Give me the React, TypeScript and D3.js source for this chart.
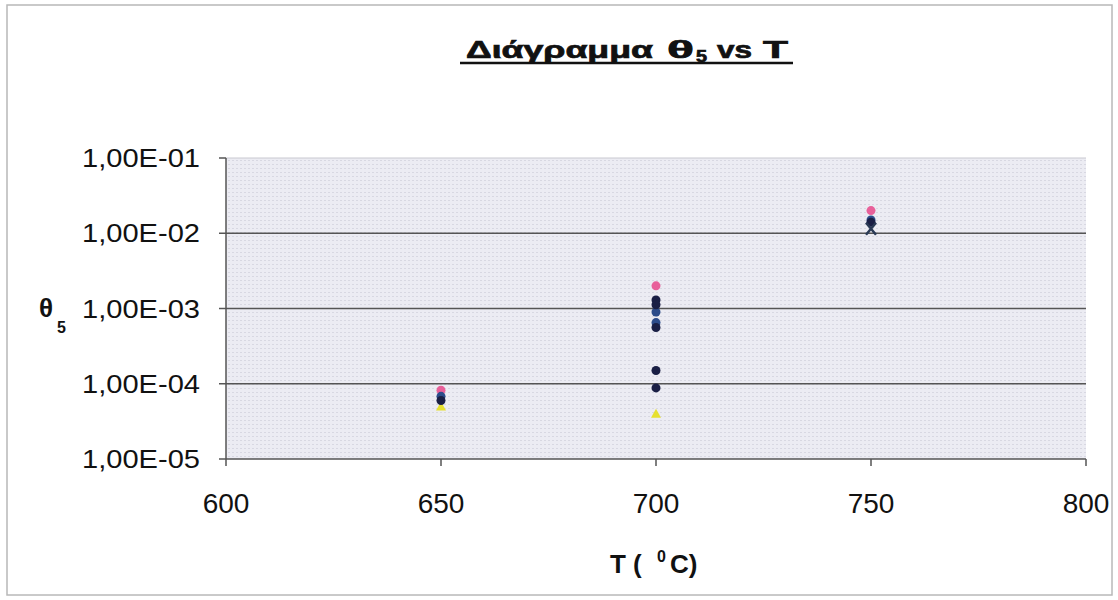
import React from "react";
import * as d3 from "d3";

const xTicks = [600, 650, 700, 750, 800];
const yTicks = [1e-5, 1e-4, 1e-3, 1e-2, 1e-1];
const yTickLabels = ["1,00E-05", "1,00E-04", "1,00E-03", "1,00E-02", "1,00E-01"];

type Pt = { t: number; v: number };
const seriesNavy: Pt[] = [
  { t: 650, v: 6.0e-5 },
  { t: 700, v: 1.3e-3 },
  { t: 700, v: 1.12e-3 },
  { t: 700, v: 5.6e-4 },
  { t: 700, v: 1.5e-4 },
  { t: 700, v: 8.8e-5 },
  { t: 750, v: 1.4e-2 },
];
const seriesPink: Pt[] = [
  { t: 650, v: 8.2e-5 },
  { t: 700, v: 2.0e-3 },
  { t: 750, v: 2.0e-2 },
];
const seriesYellow: Pt[] = [
  { t: 650, v: 5.0e-5 },
  { t: 700, v: 4.0e-5 },
];
const seriesBlue: Pt[] = [
  { t: 650, v: 6.8e-5 },
  { t: 700, v: 9.0e-4 },
  { t: 700, v: 6.5e-4 },
  { t: 750, v: 1.5e-2 },
];
const seriesX: Pt[] = [{ t: 750, v: 1.15e-2 }];

export default function App() {
  const W = 1118, H = 600;
  const left = 226, right = 1086, top = 158, bottom = 459;
  const x = d3.scaleLinear().domain([600, 800]).range([left, right]);
  const y = d3.scaleLog().domain([1e-5, 1e-1]).range([bottom, top]);
  const font = "'Liberation Sans', Arial, sans-serif";

  return (
    <svg width={W} height={H} style={{ position: "absolute", left: 0, top: 0 }}>
      <defs>
        <pattern id="dots" width="4" height="4" patternUnits="userSpaceOnUse">
          <rect width="4" height="4" fill="#ececf3" />
          <rect width="2" height="1" fill="#d8d8e2" />
        </pattern>
      </defs>
      <rect x={0} y={0} width={W} height={H} fill="#fff" />
      <rect x={7} y={5} width={1105} height={590} fill="none" stroke="#b8b8b8" strokeWidth={1.5} />
      {/* plot area */}
      <rect x={left} y={top} width={right - left} height={bottom - top} fill="url(#dots)" />
      {yTicks.slice(1, 4).map((v) => (
        <line key={v} x1={left} x2={right} y1={y(v)} y2={y(v)} stroke="#555" strokeWidth={1.5} />
      ))}
      <line x1={left} x2={right} y1={top} y2={top} stroke="#c8c8d0" strokeWidth={1} />
      <line x1={left} x2={left} y1={top} y2={bottom} stroke="#555" strokeWidth={1.5} />
      <line x1={left} x2={right} y1={bottom} y2={bottom} stroke="#555" strokeWidth={1.5} />
      {yTicks.map((v, i) => (
        <g key={v}>
          <line x1={left - 7} x2={left} y1={y(v)} y2={y(v)} stroke="#555" strokeWidth={1.5} />
          <text x={82} y={y(v) + 9} textLength={118} lengthAdjust="spacingAndGlyphs" fontFamily={font} fontSize={26} fill="#111">
            {yTickLabels[i]}
          </text>
        </g>
      ))}
      {xTicks.map((t) => (
        <g key={t}>
          <line x1={x(t)} x2={x(t)} y1={bottom} y2={bottom + 7} stroke="#555" strokeWidth={1.5} />
          <text x={x(t)} y={513} textAnchor="middle" fontFamily={font} fontSize={28} fill="#111">
            {t}
          </text>
        </g>
      ))}
      {/* series */}
      {seriesPink.map((p, i) => (
        <circle key={"p" + i} cx={x(p.t)} cy={y(p.v)} r={4.5} fill="#e8609a" />
      ))}
      {seriesYellow.map((p, i) => {
        const cx = x(p.t), cy = y(p.v);
        return (
          <path key={"y" + i} d={`M${cx},${cy - 5} L${cx + 5},${cy + 4} L${cx - 5},${cy + 4} Z`} fill="#e6e030" />
        );
      })}
      {seriesBlue.map((p, i) => (
        <circle key={"b" + i} cx={x(p.t)} cy={y(p.v)} r={4.5} fill="#2d4c8a" />
      ))}
      {seriesNavy.map((p, i) => (
        <circle key={"n" + i} cx={x(p.t)} cy={y(p.v)} r={4.5} fill="#1a1f45" />
      ))}
      {seriesX.map((p, i) => {
        const cx = x(p.t), cy = y(p.v);
        return (
          <path key={"x" + i} d={`M${cx - 5},${cy + 6} L${cx + 5},${cy - 6} M${cx - 5},${cy - 6} L${cx + 5},${cy + 6}`} stroke="#2a3a55" strokeWidth={2.5} />
        );
      })}
      {/* title */}
      <g fontFamily={font} fontWeight="bold" fill="#111" stroke="#111" strokeWidth={0.7}>
        <text x={466} y={58} fontSize={23} textLength={187} lengthAdjust="spacingAndGlyphs">Διάγραμμα</text>
        <text x={667} y={58} fontSize={23} textLength={27} lengthAdjust="spacingAndGlyphs">θ</text>
        <text x={696} y={62} fontSize={16} textLength={11} lengthAdjust="spacingAndGlyphs">5</text>
        <text x={717} y={58} fontSize={23} textLength={35} lengthAdjust="spacingAndGlyphs">vs</text>
        <text x={763} y={58} fontSize={23} textLength={25} lengthAdjust="spacingAndGlyphs">T</text>
      </g>
      <line x1={460} x2={793} y1={63} y2={63} stroke="#111" strokeWidth={2.5} />
      {/* axis titles */}
      <g fontFamily={font} fontWeight="bold" fill="#111">
        <text x={39} y={317} fontSize={26}>θ</text>
        <text x={57} y={333} fontSize={16}>5</text>
        <text x={610} y={573} fontSize={26}>T (</text>
        <text x={657} y={562} fontSize={16}>0</text>
        <text x={670} y={573} fontSize={26}>C)</text>
      </g>
    </svg>
  );
}
